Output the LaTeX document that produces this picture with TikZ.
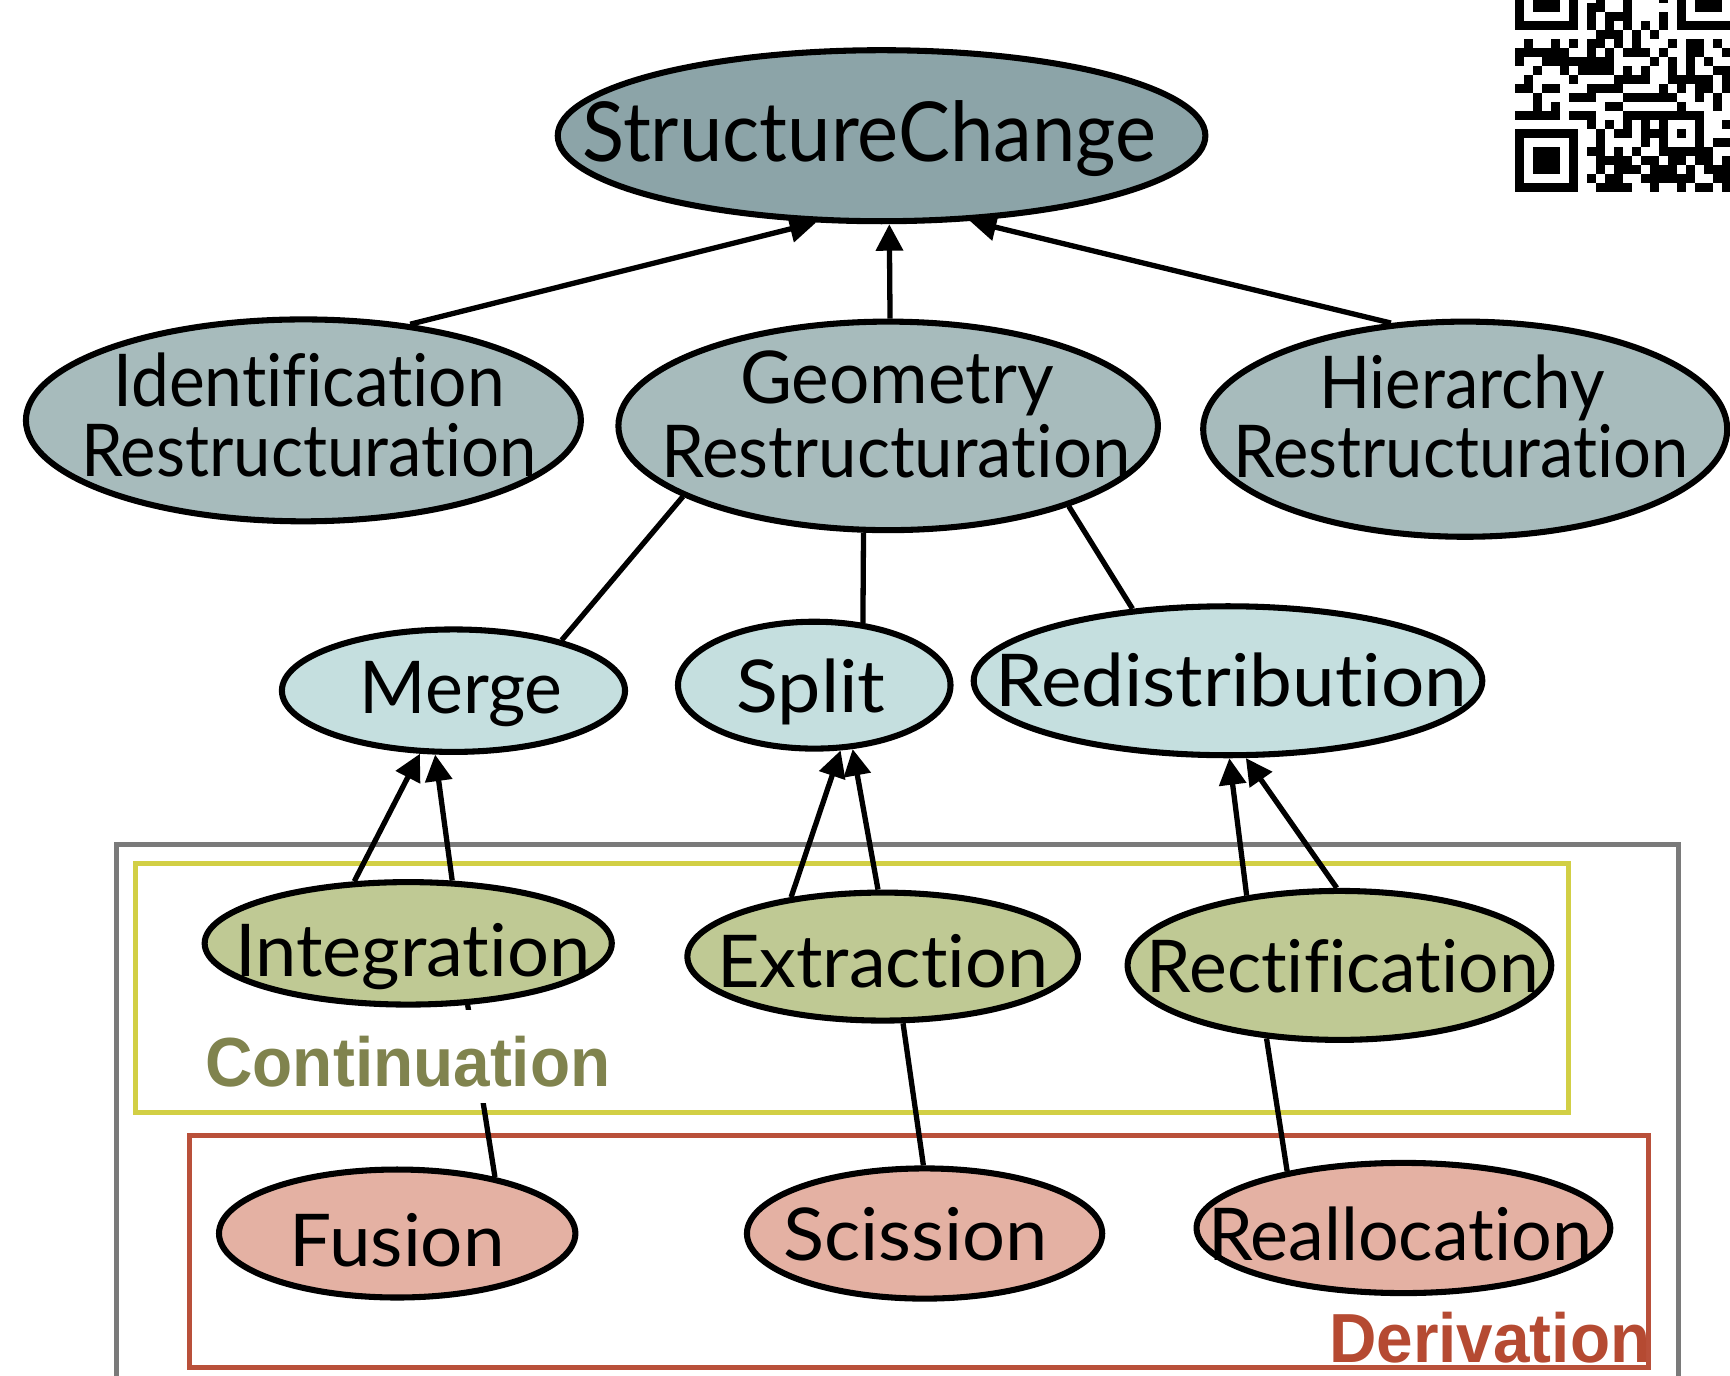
\documentclass[tikz,border=0pt]{standalone}
\usepackage{fontspec}
\usepackage{graphicx}
\usepackage{qrcode}
\setmainfont{Lato}[Ligatures=NoCommon]
\newfontfamily\labfont{Liberation Sans}
\usetikzlibrary{arrows.meta,shapes.geometric}
\definecolor{cA}{HTML}{8CA4A8}
\definecolor{cB}{HTML}{A7BBBC}
\definecolor{cC}{HTML}{C5DFDF}
\definecolor{cD}{HTML}{BFC994}
\definecolor{cE}{HTML}{E4B1A3}
\definecolor{frameGray}{HTML}{7A7A7A}
\definecolor{frameYellow}{HTML}{D2CF45}
\definecolor{frameRed}{HTML}{B9503A}
\definecolor{txtCont}{HTML}{80834E}
\definecolor{txtDeriv}{HTML}{B54A32}
\newcommand\fitw[2]{\resizebox{#1pt}{\height}{#2}}
\begin{document}
\begin{tikzpicture}[x=1pt,y=-1pt,
  ell/.style={ellipse, draw=black, line width=5.5pt, inner sep=0pt},
  txt/.style={anchor=base, inner sep=0pt, font=\fontsize{66}{66}\selectfont},
  arr/.style={line width=4.8pt, -{Triangle[length=24pt,width=24pt]}},
  ln/.style={line width=4.8pt},
  frame/.style={line width=4.5pt}]
\useasboundingbox (0,0) rectangle (1568,1247);
% frames
\draw[frame, frameGray] (106,1270) -- (106,765) -- (1521,765) -- (1521,1270);
\draw[frame, frameYellow] (123,783) rectangle (1422,1008);
\draw[frame, frameRed] (172,1029) rectangle (1494,1239);
% QR code
\node[anchor=south west, inner sep=0pt] (qr) at (1373,174) {\qrcode[height=204pt,version=2,level=M]{STRUCTURE CHANGE}};
% ellipses
\node[ell, fill=cA, minimum width=587pt, minimum height=155pt] (sc) at (799,123) {};
\node[ell, fill=cB, minimum width=503pt, minimum height=183pt] (idr) at (275,381) {};
\node[ell, fill=cB, minimum width=489pt, minimum height=189pt] (geo) at (805,386) {};
\node[ell, fill=cB, minimum width=475pt, minimum height=195pt] (hie) at (1328,389) {};
\node[ell, fill=cC, minimum width=311pt, minimum height=111pt] (mer) at (411,626) {};
\node[ell, fill=cC, minimum width=247pt, minimum height=115pt] (spl) at (738,621) {};
\node[ell, fill=cC, minimum width=461pt, minimum height=135pt] (red) at (1113,617) {};
\node[ell, fill=cD, minimum width=369pt, minimum height=111pt] (int) at (370,855) {};
\node[ell, fill=cD, minimum width=354pt, minimum height=116pt] (ext) at (800,867) {};
\node[ell, fill=cD, minimum width=384pt, minimum height=135pt] (rec) at (1214,875) {};
\node[ell, fill=cE, minimum width=323pt, minimum height=116pt] (fus) at (360,1118) {};
\node[ell, fill=cE, minimum width=322pt, minimum height=118pt] (sci) at (838,1118) {};
\node[ell, fill=cE, minimum width=375pt, minimum height=118pt] (rea) at (1272,1113) {};
% texts
\node[txt, font=\fontsize{75}{75}\selectfont] (sc-t) at (788,146) {\fitw{520}{StructureChange}};
\node[txt] (idr-t1) at (280,368) {\fitw{355}{Identification}};
\node[txt] (idr-t2) at (280,432) {\fitw{413}{Restructuration}};
\node[txt] (geo-t1) at (813,366) {\fitw{284}{Geometry}};
\node[txt] (geo-t2) at (812,433) {\fitw{425}{Restructuration}};
\node[txt] (hie-t1) at (1325,370) {\fitw{259}{Hierarchy}};
\node[txt] (hie-t2) at (1324,433) {\fitw{412}{Restructuration}};
\node[txt] (mer-t) at (418,647) {\fitw{184}{Merge}};
\node[txt] (spl-t) at (735,646) {\fitw{135}{Split}};
\node[txt] (red-t) at (1116,640) {\fitw{427}{Redistribution}};
\node[txt] (int-t) at (374,885) {\fitw{322}{Integration}};
\node[txt] (ext-t) at (800,895) {\fitw{300}{Extraction}};
\node[txt] (rec-t) at (1217,900) {\fitw{355}{Rectification}};
\node[txt] (fus-t) at (360,1148) {\fitw{195}{Fusion}};
\node[txt] (sci-t) at (830,1142) {\fitw{240}{Scission}};
\node[txt] (rea-t) at (1269,1142) {\fitw{348}{Reallocation}};
% connectors
\draw[arr] (idr.42.5) -- (sc.233);
\draw[arr] (geo.89) -- (sc.275);
\draw[arr] (hie.125) -- (sc.316);
\draw[ln] (geo.199) -- (mer.25);
\draw[ln] (geo.257) -- (spl.52);
\draw[ln] (geo.336) -- (red.143);
\draw[arr] (int.131) -- (mer.242);
\draw[arr] (int.55) -- (mer.254);
\draw[arr] (ext.147) -- (spl.292);
\draw[arr] (ext.94) -- (spl.301);
\draw[arr] (rec.143) -- (red.271);
\draw[arr] (rec.92) -- (red.283);
\draw[ln] (int.314) -- (fus.30);
\draw[ln] (ext.287) -- (sci.91);
\draw[ln] (rec.225) -- (rea.154);
% label patch and group labels
\fill[white] (126,915) rectangle (447,1000);
\node[anchor=base west, inner sep=0pt, text=txtCont, font=\labfont\bfseries\fontsize{63}{63}\selectfont] (cont) at (186,985) {\fitw{367}{Continuation}};
\node[anchor=base east, inner sep=0pt, text=txtDeriv, font=\labfont\bfseries\fontsize{63}{63}\selectfont] (deriv) at (1496,1235) {\fitw{291}{Derivation}};
\end{tikzpicture}
\end{document}
